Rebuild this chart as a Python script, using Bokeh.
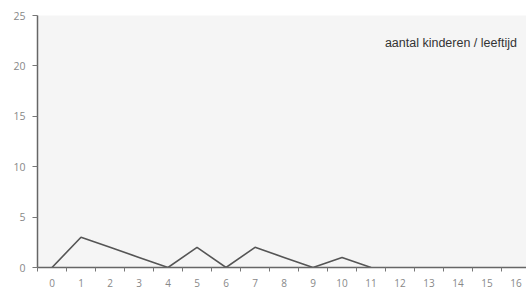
from bokeh.plotting import figure
from bokeh.models import FixedTicker, Label, Range1d
from bokeh.embed import file_html
from bokeh.resources import INLINE

ages = [0, 1, 2, 3, 4, 5, 6, 7, 8, 9, 10, 11]
children = [0, 3, 2, 1, 0, 2, 0, 2, 1, 0, 1, 0]
x_ticks = list(range(0, 17))
y_ticks = [0, 5, 10, 15, 20, 25]
caption = "aantal kinderen / leeftijd"

p = figure(width=526, height=289, output_backend="svg", toolbar_location=None,
           x_range=Range1d(-0.5, 16.36), y_range=Range1d(0, 25))
p.min_border_top = 15
p.min_border_left = 37
p.min_border_right = 0
p.min_border_bottom = 0
p.background_fill_color = "#f5f5f5"
p.border_fill_color = "white"
p.outline_line_color = None

p.line(ages, children, line_color="#555555", line_width=1.6)

p.xgrid.visible = False
p.ygrid.ticker = FixedTicker(ticks=[25])
p.ygrid.grid_line_color = "#dddddd"

xa = p.xaxis[0]
xa.ticker = FixedTicker(ticks=x_ticks, minor_ticks=[t - 0.5 for t in x_ticks] + [16.5])
xa.major_tick_out = 0
xa.major_tick_in = 0
xa.minor_tick_out = 4
xa.minor_tick_in = 0
xa.minor_tick_line_color = "#777777"
xa.axis_line_color = "#666666"
xa.axis_line_width = 1.5
xa.major_label_standoff = 7
xa.major_label_text_font = "Open Sans"
xa.major_label_text_font_size = "10px"
xa.major_label_text_color = "#888888"

ya = p.yaxis[0]
ya.ticker = FixedTicker(ticks=y_ticks)
ya.major_tick_out = 5
ya.major_tick_in = 0
ya.minor_tick_line_color = None
ya.major_tick_line_color = "#777777"
ya.axis_line_color = "#666666"
ya.axis_line_width = 1.5
ya.major_label_standoff = 7
ya.major_label_text_font = "Open Sans"
ya.major_label_text_font_size = "10.5px"
ya.major_label_text_color = "#888888"

p.add_layout(Label(x=16.03, y=22.3, text=caption, text_align="right",
                   text_baseline="middle", text_font="Liberation Sans",
                   text_font_size="12.5px", text_color="#333333"))

open("out.html", "w").write(file_html(p, INLINE))
